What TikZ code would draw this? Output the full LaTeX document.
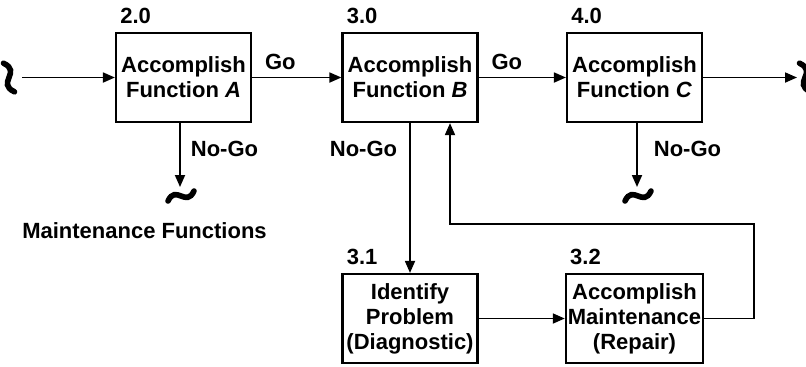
\documentclass[tikz,border=0pt]{standalone}
\usepackage{fontspec}
\setmainfont{Liberation Sans}
\usetikzlibrary{arrows.meta,positioning}

\tikzset{
  func/.style={draw, line width=1.1pt, minimum width=67.5pt, minimum height=44.5pt, align=center, inner sep=1pt},
  num/.style={anchor=south west, inner sep=0pt, xshift=2.5pt, yshift=4pt},
  lbl/.style={inner sep=0pt},
  golbl/.style={lbl, pos=0, anchor=south west, xshift=6pt, yshift=3.5pt},
  flow/.style={line width=0.9pt, -{Triangle[length=6pt,width=5pt]}},
  brk/.pic={\draw[line width=2.8pt, line cap=round] (-13,5) .. controls (-5,-12) and (5,12) .. (13,-5);}
}

\begin{document}
\begin{tikzpicture}[x=0.5pt, y=-0.5pt, every node/.style={font=\fontsize{11}{12.5}\selectfont\bfseries}]
  \useasboundingbox (0,0) rectangle (806,366);

  % main functions
  \node[func] (A) at (183.5,77.5) {Accomplish\\Function \textit{A}};
  \node[func] (B) at (410,77.5) {Accomplish\\Function \textit{B}};
  \node[func] (C) at (634.5,77.5) {Accomplish\\Function \textit{C}};
  \node[num] (nA) at (A.north west) {2.0};
  \node[num] (nB) at (B.north west) {3.0};
  \node[num] (nC) at (C.north west) {4.0};

  % maintenance functions
  \node[func] (D) at (410,318.5) {Identify\\Problem\\(Diagnostic)};
  \node[func] (E) at (634.5,318.5) {Accomplish\\Maintenance\\(Repair)};
  \node[num] (nD) at (D.north west) {3.1};
  \node[num] (nE) at (E.north west) {3.2};
  \node[lbl] (mf) at (144.5,231) {Maintenance Functions};

  % breaks
  \coordinate (inL) at (22,77.5);
  \coordinate (outR) at (797,77.5);
  \coordinate (tA) at (180,187);
  \coordinate (tC) at (637,187);
  \pic[rotate=90, scale=1.1] at (9,77.5) {brk};
  \pic[rotate=90, scale=1.1] at (805,77.5) {brk};
  \pic at (181,196) {brk};
  \pic at (638,196) {brk};

  % flow
  \draw[flow] (inL) -- (A);
  \draw[flow] (A) -- node[golbl] {Go} (B);
  \draw[flow] (B) -- node[golbl] {Go} (C);
  \draw[flow] (C) -- (outR);
  \draw[flow] (A.south -| tA) -- node[lbl, pos=0.4, anchor=west, xshift=5pt] {No-Go} (tA);
  \draw[flow] (C.south -| tC) -- node[lbl, pos=0.4, anchor=west, xshift=8pt] {No-Go} (tC);
  \draw[flow] (B) -- node[lbl, pos=0.17, anchor=east, xshift=-6pt] {No-Go} (D);
  \draw[flow] (D) -- (E);

  % back to function B after repair
  \coordinate (fb) at (754,224);
  \draw[flow] (E.east) -| (fb) -| ([xshift=20pt]B.south);
\end{tikzpicture}
\end{document}
